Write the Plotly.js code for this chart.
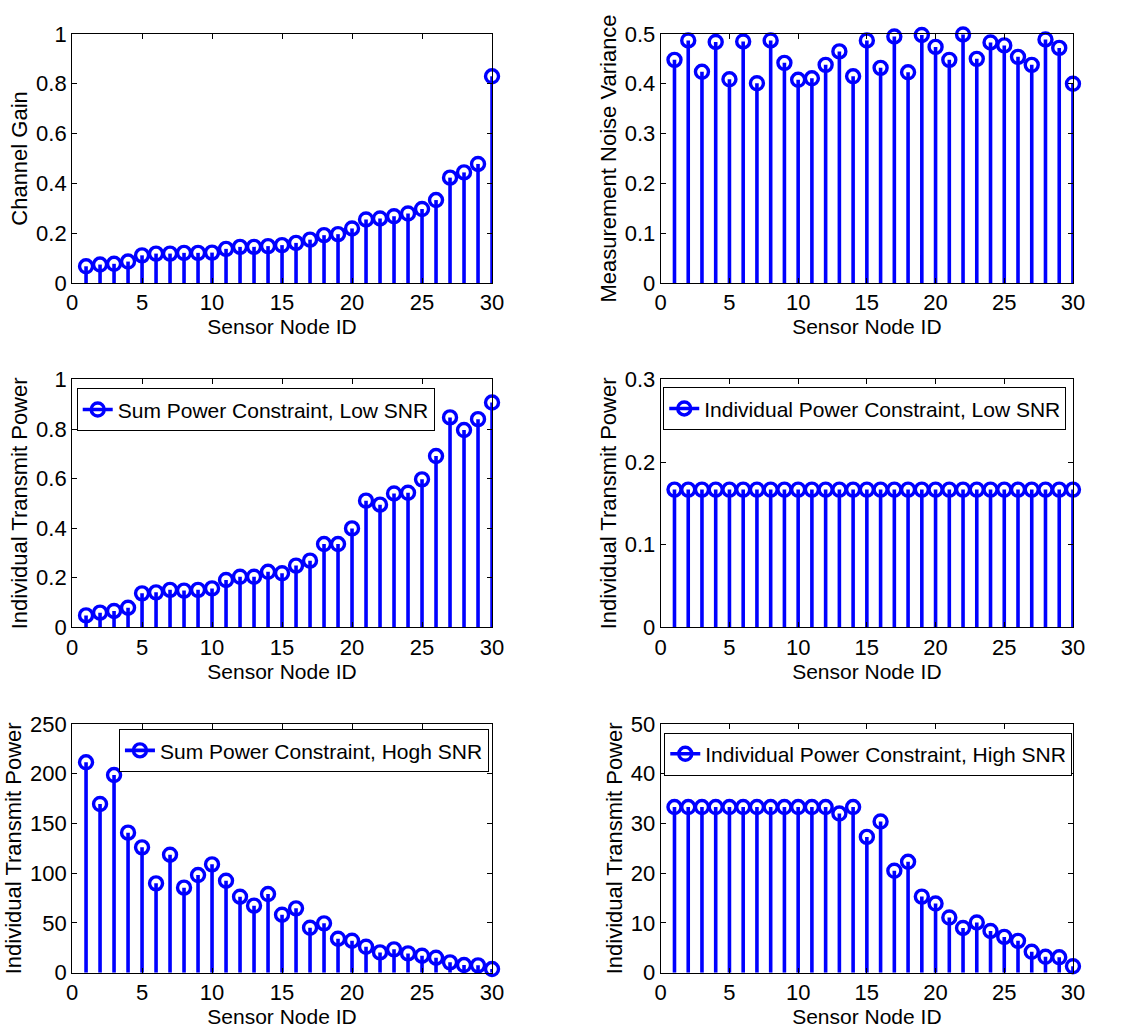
<!DOCTYPE html>
<html>
<head>
<meta charset="utf-8">
<script src="https://cdn.plot.ly/plotly-3.0.1.min.js"></script>
<style>html,body{margin:0;padding:0;background:#fff;}#chart{width:1140px;height:1029px;}</style>
</head>
<body>
<div id="chart"></div>
<script>
// ---- data ----
const nodeIds = [1,2,3,4,5,6,7,8,9,10,11,12,13,14,15,16,17,18,19,20,21,22,23,24,25,26,27,28,29,30];

const channelGain = [0.067,0.074,0.077,0.086,0.111,0.118,0.118,0.121,0.121,0.122,
                     0.137,0.145,0.145,0.148,0.152,0.161,0.174,0.192,0.196,0.219,
                     0.255,0.259,0.268,0.279,0.297,0.333,0.423,0.444,0.478,0.830];

const noiseVariance = [0.448,0.487,0.424,0.484,0.409,0.485,0.401,0.487,0.442,0.408,
                       0.411,0.438,0.465,0.415,0.487,0.432,0.495,0.423,0.498,0.474,
                       0.448,0.499,0.450,0.483,0.477,0.454,0.438,0.489,0.472,0.400];

const sumLowSNR = [0.048,0.059,0.066,0.079,0.137,0.141,0.151,0.148,0.151,0.157,
                   0.191,0.204,0.204,0.224,0.218,0.249,0.269,0.336,0.336,0.399,
                   0.511,0.495,0.540,0.543,0.597,0.691,0.847,0.796,0.840,0.907];

const indLowSNR = [0.1667,0.1667,0.1667,0.1667,0.1667,0.1667,0.1667,0.1667,0.1667,0.1667,
                   0.1667,0.1667,0.1667,0.1667,0.1667,0.1667,0.1667,0.1667,0.1667,0.1667,
                   0.1667,0.1667,0.1667,0.1667,0.1667,0.1667,0.1667,0.1667,0.1667,0.1667];

const sumHighSNR = [211.5,169.6,198.7,140.8,126.0,89.8,118.6,85.5,98.2,108.9,
                    92.5,76.4,67.4,79.1,58.3,64.7,45.2,49.6,34.2,32.2,
                    26.1,20.4,23.5,19.4,17.1,15.1,10.4,7.7,7.4,3.7];

const indHighSNR = [33.3,33.3,33.3,33.3,33.3,33.3,33.3,33.3,33.3,33.3,
                    33.3,33.3,32.0,33.3,27.3,30.4,20.5,22.3,15.3,13.9,
                    11.1,9.0,10.1,8.4,7.2,6.4,4.2,3.2,3.1,1.3];

const xTitle = 'Sensor Node ID';
const yTitles = ['Channel Gain','Measurement Noise Variance','Individual Transmit Power',
                 'Individual Transmit Power','Individual Transmit Power','Individual Transmit Power'];
const legendNames = [null, null, 'Sum Power Constraint, Low SNR', 'Individual Power Constraint, Low SNR',
                     'Sum Power Constraint, Hogh SNR', 'Individual Power Constraint, High SNR'];
const yRanges = [[0,1],[0,0.5],[0,1],[0,0.3],[0,250],[0,50]];
const yDticks = [0.2,0.1,0.2,0.1,50,10];
const series = [channelGain, noiseVariance, sumLowSNR, indLowSNR, sumHighSNR, indHighSNR];

// ---- styling ----
const BLUE = '#0000ff';
const FAM = 'Liberation Sans, Arial, Helvetica, sans-serif';
const xDomains = [[0.0632,0.4316],[0.5796,0.9412]];
const yDomains = [[0.7250,0.9670],[0.3904,0.6312],[0.0547,0.2964]];
const legendPos = [
  null, null,
  {x:0.0673, y:0.6226, xanchor:'left'},
  {x:0.5818, y:0.6236, xanchor:'left'},
  {x:0.4289, y:0.2913, xanchor:'right'},
  {x:0.5827, y:0.2880, xanchor:'left'}
];
const MARKER = {symbol:'circle-open', size:13, color:BLUE, line:{width:3.4, color:BLUE}};

const traces = [];
const layout = {
  width: 1140, height: 1029,
  margin: {l:0, r:0, t:0, b:0},
  paper_bgcolor: '#fff', plot_bgcolor: '#fff',
  font: {family: FAM, size: 21, color: '#000'},
  showlegend: true
};

let legendCount = 0;
series.forEach((vals, i) => {
  const n = i + 1;
  const sfx = n === 1 ? '' : String(n);
  const xa = 'x' + sfx, ya = 'y' + sfx;
  const xs = [], ys = [];
  nodeIds.forEach((id, k) => { xs.push(id, id, null); ys.push(0, vals[k], null); });
  traces.push({type:'scatter', mode:'lines', x:xs, y:ys, xaxis:xa, yaxis:ya,
               line:{color:BLUE, width:3.6}, showlegend:false, hoverinfo:'skip'});
  traces.push({type:'scatter', mode:'markers', x:nodeIds, y:vals, xaxis:xa, yaxis:ya,
               marker:MARKER, showlegend:false, cliponaxis:false});
  if (legendNames[i]) {
    legendCount++;
    const lg = legendCount === 1 ? 'legend' : 'legend' + legendCount;
    traces.push({type:'scatter', mode:'lines+markers', x:[null], y:[null], xaxis:xa, yaxis:ya,
                 name: legendNames[i], legend: lg,
                 line:{color:BLUE, width:3.6}, marker:MARKER});
    const p = legendPos[i];
    layout[lg] = {x:p.x, y:p.y, xanchor:p.xanchor, yanchor:'top', xref:'paper', yref:'paper',
                  bgcolor:'#fff', bordercolor:'#000', borderwidth:1,
                  font:{family:FAM, size:21, color:'#000'}};
  }
  const col = i % 2, row = Math.floor(i / 2);
  layout['xaxis' + sfx] = {
    domain: xDomains[col], anchor: ya, range:[0,30],
    tickmode:'linear', tick0:0, dtick:5,
    ticks:'inside', ticklen:5, tickcolor:'#000', tickwidth:1,
    showline:true, linecolor:'#000', linewidth:1, mirror:'ticks',
    showgrid:false, zeroline:false,
    tickfont:{family:FAM, size:22, color:'#000'},
    title:{text:xTitle, font:{family:FAM, size:21, color:'#000'}, standoff:0}
  };
  layout['yaxis' + sfx] = {
    domain: yDomains[row], anchor: xa, range: yRanges[i],
    tickmode:'linear', tick0:0, dtick: yDticks[i],
    ticks:'inside', ticklen:5, tickcolor:'#000', tickwidth:1,
    showline:true, linecolor:'#000', linewidth:1, mirror:'ticks',
    showgrid:false, zeroline:true, zerolinecolor:'#000', zerolinewidth:2.5,
    tickfont:{family:FAM, size:22, color:'#000'},
    title:{text:yTitles[i], font:{family:FAM, size:22, color:'#000'}, standoff:2}
  };
});

Plotly.newPlot('chart', traces, layout, {staticPlot:true});
</script>
</body>
</html>
